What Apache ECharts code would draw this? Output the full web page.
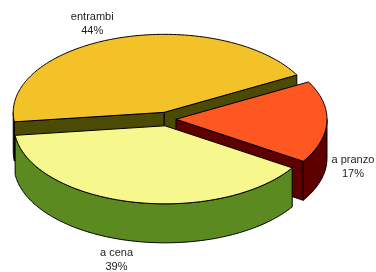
<!DOCTYPE html>
<html>
<head>
<meta charset="utf-8">
<script src="https://cdn.jsdelivr.net/npm/echarts@6/dist/echarts.min.js"></script>
<style>
html, body { margin: 0; padding: 0; background: #fff; }
#chart { width: 376px; height: 272px; }
</style>
</head>
<body>
<div id="chart"></div>
<script>
// dati del grafico
const names = ['entrambi', 'a pranzo', 'a cena']
const values = [44, 17, 39]

// colori: faccia superiore / pareti laterali
const topColors = ['#F3C128', '#FF5722', '#F6F88E']
const sideColors = ['#4B4B05', '#5E0000', '#5B8A21']

// geometria della torta 3D
const CX = 167, CY = 119, RX = 151, RY = 78, DEPTH = 39
const EXPLODE_X = 9, EXPLODE_Y = 7
const START = 187

const total = values.reduce((a, b) => a + b, 0)
let acc = START
const slices = values.map(v => {
  const a1 = acc
  acc -= v / total * 360
  return { a1, a2: acc }
})

const rad = d => d * Math.PI / 180

function renderItem (params, api) {
  const i = params.dataIndex
  const v = api.value(0)
  const { a1, a2 } = slices[i]
  const mid = rad((a1 + a2) / 2)
  const cx = CX + EXPLODE_X * Math.cos(mid)
  const cy = CY - EXPLODE_Y * Math.sin(mid)
  const pt = (deg, dy = 0) => [cx + RX * Math.cos(rad(deg)), cy - RY * Math.sin(rad(deg)) + dy]
  const arc = (from, to, dy) => {
    const pts = []
    const n = Math.max(2, Math.ceil(Math.abs(from - to)))
    for (let k = 0; k <= n; k++) pts.push(pt(from + (to - from) * k / n, dy))
    return pts
  }
  const sideStyle = { fill: sideColors[i], stroke: '#000', lineWidth: 1 }
  const children = []

  // pareti radiali visibili
  if (Math.cos(rad(a1)) < 0) {
    children.push({ type: 'polygon', shape: { points: [[cx, cy], pt(a1), pt(a1, DEPTH), [cx, cy + DEPTH]] }, style: sideStyle })
  }
  if (Math.cos(rad(a2)) > 0) {
    children.push({ type: 'polygon', shape: { points: [[cx, cy], pt(a2), pt(a2, DEPTH), [cx, cy + DEPTH]] }, style: sideStyle })
  }
  // parete esterna (solo la parte davanti)
  for (let k = -1; k <= 1; k++) {
    const lo = Math.max(a2, 360 * k - 180)
    const hi = Math.min(a1, 360 * k)
    if (hi > lo) {
      const pts = arc(hi, lo, 0).concat(arc(lo, hi, DEPTH))
      children.push({ type: 'polygon', shape: { points: pts }, style: sideStyle })
    }
  }
  // faccia superiore
  children.push({
    type: 'polygon',
    shape: { points: [[cx, cy]].concat(arc(a1, a2, 0)) },
    style: { fill: topColors[i], stroke: '#000', lineWidth: 1 }
  })

  // etichetta
  const c = Math.cos(mid), s = Math.sin(mid)
  let x, y, valign
  if (Math.abs(c) > 0.8) {
    x = cx + RX * c + 26 * Math.sign(c)
    y = cy - RY * s + DEPTH + 6
    valign = 'middle'
  } else if (s > 0) {
    x = cx + RX * c * 1.56
    y = cy - RY * s
    valign = 'bottom'
  } else {
    x = cx + RX * c * 1.45
    y = cy - RY * s + DEPTH + 5
    valign = 'top'
  }
  children.push({
    type: 'text',
    style: {
      text: names[i] + '\n' + v + '%',
      x, y,
      align: 'center', verticalAlign: valign,
      textAlign: 'center', textVerticalAlign: valign,
      fill: '#222',
      fontSize: 11,
      fontFamily: '"Liberation Sans", Arial, sans-serif',
      lineHeight: 14
    }
  })

  return { type: 'group', children }
}

const myChart = echarts.init(document.getElementById('chart'))
const option = {
  animation: false,
  series: [{
    type: 'custom',
    coordinateSystem: 'none',
    renderItem,
    data: values.map((v, i) => ({ name: names[i], value: [v] }))
  }]
}
myChart.setOption(option)
</script>
</body>
</html>
